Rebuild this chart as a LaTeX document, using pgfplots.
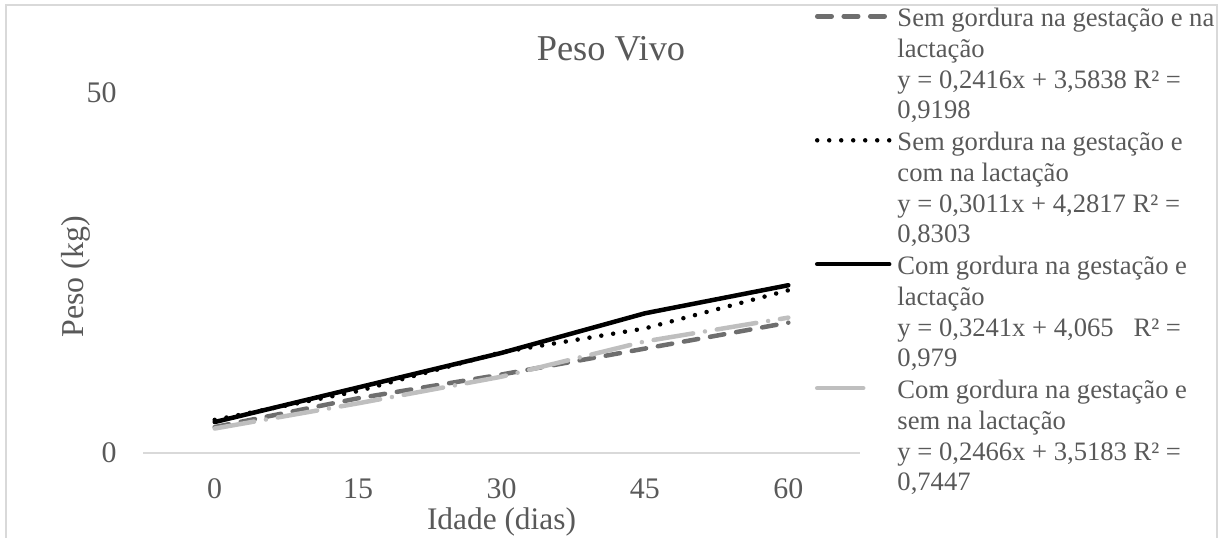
\documentclass[border=0pt]{standalone}
\usepackage{pgfplots}
\pgfplotsset{compat=1.18}
\usepackage{fontspec}
\setmainfont{Liberation Serif}

\definecolor{txt}{HTML}{595959}
\definecolor{dgray}{HTML}{6E6E6E}
\definecolor{lgray}{HTML}{BFBFBF}
\definecolor{frame}{HTML}{D9D9D9}

\pgfplotsset{
    shortleg/.style={legend image code/.code={\draw[##1, solid] (0bp,10bp) -- (46bp,10bp);}},
}

\begin{document}
\begin{tikzpicture}[x=1bp,y=1bp]
\useasboundingbox (0,0) rectangle (1227,538);
\draw[frame, line width=1.5bp] (6,-20) -- (6,533) -- (1217,533) -- (1217,-20);

\begin{axis}[
    at={(143bp,85bp)}, anchor=south west,
    scale only axis, width=717bp, height=360bp,
    xmin=-7.5, xmax=67.5, ymin=0, ymax=50,
    xtick={0,15,30,45,60}, ytick={0,50},
    axis x line*=bottom, axis y line*=left,
    x axis line style={draw=frame, line width=1.5bp, -},
    y axis line style={draw=none},
    major tick length=0pt,
    ticklabel style={font=\fontsize{30}{36}\selectfont, text=txt},
    /pgf/number format/assume math mode=true,
    yticklabel style={xshift=-23bp},
    xticklabel style={yshift=-22bp},
    title={Peso Vivo},
    title style={font=\fontsize{36.5}{44}\selectfont, text=txt,
        at={(axis description cs:0.6527,1.0731)}, anchor=base},
    xlabel={Idade (dias)},
    xlabel style={font=\fontsize{31.5}{38}\selectfont, text=txt,
        at={(axis description cs:0.5,-0.2139)}, anchor=base},
    ylabel={Peso (kg)},
    ylabel style={font=\fontsize{32}{38}\selectfont, text=txt,
        at={(axis description cs:-0.0823,0.4889)}, anchor=base},
    legend style={at={(axis description cs:0.9372,1.2361)}, anchor=north west,
        draw=none, fill=none, inner sep=0pt, outer sep=0pt,
        row sep=11.4bp, column sep=6bp,
        nodes={inner sep=0pt, outer sep=0pt},
        cells={anchor=base west},
        font=\fontsize{26.7}{30}\selectfont, text=txt},
    legend image code/.code={\draw[#1] (0bp,10bp) -- (72bp,10bp);},
    clip=false,
    every axis plot/.append style={line width=4.5bp, line cap=round, line join=round},
]
% Sem gordura na gestacao e na lactacao
\addplot[dgray, dash pattern=on 14.5bp off 12bp] coordinates {
    (0,3.6) (15,7.6) (30,10.9) (45,14.5) (60,18.1)
};
\addlegendentry{Sem gordura na gestação e na}
\addlegendimage{empty legend}\addlegendentry{lactação}
\addlegendimage{empty legend}\addlegendentry{y = 0,2416x + 3,5838 R² =}
\addlegendimage{empty legend}\addlegendentry{0,9198}
% Sem gordura na gestacao e com na lactacao
\addplot[black, dash pattern=on 0bp off 12bp] coordinates {
    (0,4.6) (15,8.6) (30,14.0) (45,17.3) (60,22.6)
};
\addlegendentry{Sem gordura na gestação e}
\addlegendimage{empty legend}\addlegendentry{com na lactação}
\addlegendimage{empty legend}\addlegendentry{y = 0,3011x + 4,2817 R² =}
\addlegendimage{empty legend}\addlegendentry{0,8303}
% Com gordura na gestacao e lactacao
\addplot[black] coordinates {
    (0,4.3) (15,9.1) (30,13.9) (45,19.4) (60,23.3)
};
\addlegendentry{Com gordura na gestação e}
\addlegendimage{empty legend}\addlegendentry{lactação}
\addlegendimage{empty legend}\addlegendentry{y = 0,3241x + 4,065\ \ \ R² =}
\addlegendimage{empty legend}\addlegendentry{0,979}
% Com gordura na gestacao e sem na lactacao
\addplot[lgray, dash pattern=on 40bp off 12bp on 0bp off 12bp, shortleg] coordinates {
    (0,3.4) (15,6.9) (30,10.6) (45,15.5) (60,18.8)
};
\addlegendentry{Com gordura na gestação e}
\addlegendimage{empty legend}\addlegendentry{sem na lactação}
\addlegendimage{empty legend}\addlegendentry{y = 0,2466x + 3,5183 R² =}
\addlegendimage{empty legend}\addlegendentry{0,7447}
\end{axis}
\end{tikzpicture}
\end{document}
